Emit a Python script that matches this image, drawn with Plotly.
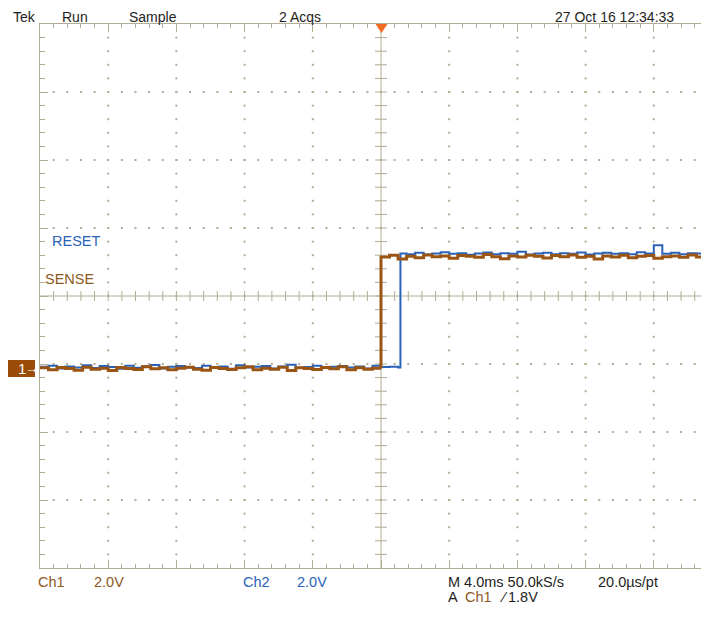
import numpy as np
import plotly.graph_objects as go

header_labels = ["Tek", "Run", "Sample", "2 Acqs", "27 Oct 16 12:34:33"]
channel_names = ["SENSE", "RESET"]          # Ch1, Ch2
volts_per_div = [2.0, 2.0]                  # Ch1, Ch2
ms_per_div = 4.0
sample_step_ms = 0.5
trigger_level_v = 1.8

ch1_offset_div = -1.066                     # ground marker position of Ch1
ch2_offset_div = -1.055
ch1_edge_ms = 0.0
ch2_edge_ms = 1.14

# Ch1 (SENSE) low level, t = -20 ms ... 0 ms
ch1_low = [0.02, -0.04, 0.03, 0.00, -0.05, 0.04, -0.02, 0.01, -0.06, 0.03,
           0.00, -0.03, 0.05, -0.01, 0.02, -0.04, 0.01, 0.04, -0.02, -0.05,
           0.03, 0.00, -0.03, 0.02, 0.05, -0.04, 0.01, -0.02, 0.04, -0.06,
           0.02, 0.00, -0.03, 0.03, -0.01, 0.05, -0.04, 0.02, -0.02, 0.01, 0.00]
# Ch1 high level, t = 0 ms ... 19.5 ms
ch1_high = [3.28, 3.33, 3.22, 3.30, 3.26, 3.34, 3.29, 3.31, 3.24, 3.32,
            3.30, 3.27, 3.35, 3.29, 3.23, 3.31, 3.28, 3.33, 3.30, 3.25,
            3.32, 3.29, 3.34, 3.27, 3.30, 3.22, 3.31, 3.28, 3.33, 3.26,
            3.30, 3.32, 3.24, 3.29, 3.31, 3.27, 3.34, 3.28, 3.30, 3.26]
# Ch2 (RESET) low level, t = -20 ms ... 1.0 ms
ch2_low = [0.03, 0.06, -0.02, 0.04, 0.01, 0.07, -0.01, 0.05, 0.02, -0.03,
           0.06, 0.00, 0.04, 0.08, -0.02, 0.03, 0.05, 0.01, -0.01, 0.06,
           0.02, 0.04, -0.03, 0.07, 0.01, 0.03, 0.05, -0.02, 0.04, 0.09,
           0.00, 0.02, 0.06, -0.01, 0.03, 0.05, 0.01, 0.04, -0.02, 0.06,
           0.02, 0.03, 0.01]
# Ch2 high level, t = 1.14 ms, then 1.5 ms ... 19.5 ms
ch2_high = [3.36, 3.34, 3.38, 3.33, 3.36, 3.40, 3.35, 3.37, 3.32, 3.36,
            3.39, 3.34, 3.37, 3.35, 3.41, 3.33, 3.36, 3.38, 3.34, 3.37,
            3.35, 3.39, 3.33, 3.36, 3.38, 3.35, 3.37, 3.34, 3.40, 3.36,
            3.60, 3.35, 3.38, 3.34, 3.37, 3.36, 3.39, 3.35]

# ---------------- build traces ----------------
t_start = -5 * ms_per_div
ch1_t = ([t_start + sample_step_ms * i for i in range(len(ch1_low))] +
         [ch1_edge_ms + sample_step_ms * i for i in range(len(ch1_high))])
ch1_v = ch1_low + ch1_high
first_high = 1.5
ch2_t = ([t_start + sample_step_ms * i for i in range(len(ch2_low))] + [ch2_edge_ms] +
         [ch2_edge_ms] + [first_high + sample_step_ms * i for i in range(len(ch2_high) - 1)])
ch2_v = ch2_low + [ch2_low[-1]] + ch2_high

ch1_div = [ch1_offset_div + v / volts_per_div[0] for v in ch1_v]
ch2_div = [ch2_offset_div + v / volts_per_div[1] for v in ch2_v]

ORANGE = "#9a5514"
BLUE = "#2a62b8"
GRID = "#b3ac94"
TXT = "#1e1e1e"
BROWN_TXT = "#8c5a1e"
FONT = "Liberation Sans Narrow, Arial Narrow, Liberation Sans, sans-serif"

PAGE_OFF = 8                      # default page margin of the html body
W_FIG, H_FIG = 709 - PAGE_OFF, 617 - PAGE_OFF
L, T, PH = 32, 16, 544
PW = W_FIG - L
B = H_FIG - T - PH
px_per_ms = 68.2 / ms_per_div
x_max = t_start + PW / px_per_ms


def pxx(xp):
    return (xp - PAGE_OFF - L) / PW


def pyy(yp):
    return (T + PH - (yp - PAGE_OFF)) / PH


fig = go.Figure()

# graticule dots along the major lines
dx_minor = ms_per_div / 5
gx, gy = [], []
major_x = [t_start + ms_per_div * k for k in range(1, 10) if k != 5]
minor_y = [-4 + 0.2 * k for k in range(1, 40)]
for xm in major_x:
    for ym in minor_y:
        gx.append(xm)
        gy.append(ym)
major_y = [k for k in range(-3, 4) if k != 0]
minor_x = [t_start + dx_minor * k for k in range(1, 50)]
for ym in major_y:
    for xm in minor_x:
        gx.append(xm)
        gy.append(ym)
fig.add_trace(go.Scatter(x=gx, y=gy, mode="markers", hoverinfo="skip",
                         marker=dict(symbol="square", size=2, color=GRID, line=dict(width=0)),
                         showlegend=False))

# centre cross with tick marks
cx, cy = [], []
cx += [0, 0, None]
cy += [-4, 4, None]
cx += [t_start, x_max, None]
cy += [0, 0, None]
half_h = 6 / px_per_ms
for ym in minor_y:
    cx += [-half_h, half_h, None]
    cy += [ym, ym, None]
half_v = 5 / 68.0
for xm in minor_x:
    cx += [xm, xm, None]
    cy += [-half_v, half_v, None]
fig.add_trace(go.Scatter(x=cx, y=cy, mode="lines", hoverinfo="skip",
                         line=dict(color=GRID, width=1), showlegend=False))

# waveforms
fig.add_trace(go.Scatter(x=ch2_t, y=ch2_div, mode="lines", name="Ch2",
                         line=dict(color=BLUE, width=2, shape="hv"), showlegend=False))
fig.add_trace(go.Scatter(x=ch1_t, y=ch1_div, mode="lines", name="Ch1",
                         line=dict(color=ORANGE, width=3, shape="hv"), showlegend=False))

# ---------------- markers ----------------
shapes = []
# trigger position marker (top)
shapes.append(dict(type="path", xref="paper", yref="paper",
                   path=f"M{pxx(375.5)},{pyy(24)} L{pxx(387.5)},{pyy(24)} L{pxx(381.5)},{pyy(33)} Z",
                   fillcolor="#f26b22", line=dict(width=0)))
# trigger level marker (right edge)
trig_div = ch1_offset_div + trigger_level_v / volts_per_div[0]
ty = 24 + PH / 2 - trig_div * 68.0
shapes.append(dict(type="path", xref="paper", yref="paper",
                   path=f"M{pxx(702.5)},{pyy(ty)} L{pxx(708.5)},{pyy(ty - 5)} L{pxx(708.5)},{pyy(ty + 5)} Z",
                   fillcolor=ORANGE, line=dict(width=0)))
# channel 1 ground marker
gy_px = 24 + PH / 2 - ch1_offset_div * 68.0
shapes.append(dict(type="rect", xref="paper", yref="paper",
                   x0=pxx(PAGE_OFF), x1=pxx(35), y0=pyy(gy_px - 8.5), y1=pyy(gy_px + 8.5),
                   fillcolor="#9a4c08", line=dict(width=0)))

ann = []


def text(s, x, y, color=TXT, anchor="center", size=14.5, yanchor="middle"):
    ann.append(dict(text=s, x=pxx(x), y=pyy(y), xref="paper", yref="paper",
                    xanchor=anchor, yanchor=yanchor, showarrow=False, borderpad=0,
                    font=dict(family=FONT, size=size, color=color)))


HEAD_Y = PAGE_OFF + 0.5
text(header_labels[0], 24, HEAD_Y, size=14, yanchor="top")
text(header_labels[1], 75, HEAD_Y, size=14, yanchor="top")
text(header_labels[2], 153, HEAD_Y, size=14, yanchor="top")
text(header_labels[3], 300, HEAD_Y, size=14, yanchor="top")
text(header_labels[4], 614, HEAD_Y, size=14, yanchor="top")

text(channel_names[1], 51, 241, BLUE, "left")
text(channel_names[0], 44, 279, BROWN_TXT, "left")

text("1", 22, gy_px, "white", size=15)
text("→", 32, gy_px, "white", size=14)

text("Ch1", 51, 582, BROWN_TXT)
text(f"{volts_per_div[0]:.1f}V", 109, 582, BROWN_TXT)
text("Ch2", 256, 582, BLUE)
text(f"{volts_per_div[1]:.1f}V", 312, 582, BLUE)
text(f"M {ms_per_div:.1f}ms 50.0kS/s", 447, 582, TXT, "left")
text("20.0µs/pt", 597, 582, TXT, "left")
text("A", 447, 597, TXT, "left")
text("Ch1", 464, 597, BROWN_TXT, "left")
text("⁄", 499, 597, TXT, "left")
text(f"{trigger_level_v:.1f}V", 507, 597, TXT, "left")

fig.update_layout(
    width=W_FIG, height=H_FIG,
    margin=dict(l=L, r=0, t=T, b=B, pad=0),
    paper_bgcolor="white", plot_bgcolor="white",
    shapes=shapes, annotations=ann,
    xaxis=dict(range=[t_start, x_max], showgrid=False, zeroline=False,
               showticklabels=False, showline=True, linecolor=GRID, linewidth=1,
               mirror="ticks", ticks="inside", ticklen=8, tickcolor=GRID, tickwidth=1,
               tick0=0, dtick=ms_per_div,
               minor=dict(ticks="inside", ticklen=4, tickcolor=GRID, dtick=dx_minor,
                          tick0=0, showgrid=False)),
    yaxis=dict(range=[-4, 4], showgrid=False, zeroline=False,
               showticklabels=False, showline=True, linecolor=GRID, linewidth=1,
               mirror=False, ticks="inside", ticklen=8, tickcolor=GRID, tickwidth=1,
               tick0=0, dtick=1,
               minor=dict(ticks="inside", ticklen=5, tickcolor=GRID, dtick=0.2,
                          tick0=0, showgrid=False)),
)

fig.write_html("out.html")
